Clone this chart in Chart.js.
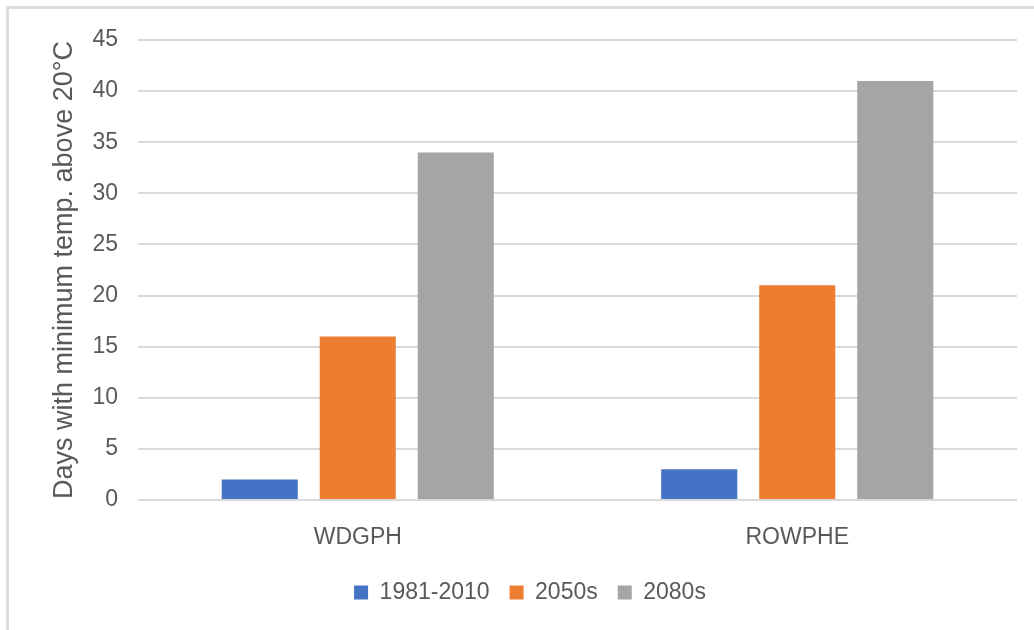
<!DOCTYPE html>
<html>
<head>
<meta charset="utf-8">
<script src="https://cdn.jsdelivr.net/npm/chart.js@4.4.1/dist/chart.umd.min.js"></script>
<style>
  html, body { margin: 0; padding: 0; background: #fff; }
  #frame {
    position: absolute; left: 6px; top: 6px; width: 1028px; height: 624px;
    border-top: 3px solid #dcdcdc; border-left: 3px solid #dcdcdc; box-sizing: border-box;
  }
  #wrap { position: absolute; left: 0; top: 0; width: 1034px; height: 630px; }
</style>
</head>
<body>
<div id="frame"></div>
<div id="wrap"><canvas id="chart" width="1034" height="630"></canvas></div>
<script>
// Sites on the category axis
const categories = ['WDGPH', 'ROWPHE'];
// Period names for the three series
const periods = ['1981-2010', '2050s', '2080s'];
// Days with minimum temperature above 20°C, per site
const days1981to2010 = [2, 3];
const days2050s = [16, 21];
const days2080s = [34, 41];
// Value axis ticks
const yMin = 0, yMax = 45, yStep = 5;

const seriesValues = [days1981to2010, days2050s, days2080s];
const seriesColors = ['#4472c4', '#ed7d31', '#a5a5a5'];

const FONT = "'Liberation Sans', Arial, sans-serif";
const TEXT = '#595959';

new Chart(document.getElementById('chart'), {
  type: 'bar',
  data: {
    labels: categories,
    datasets: periods.map((p, i) => ({
      label: p,
      data: seriesValues[i],
      backgroundColor: seriesColors[i],
      borderWidth: 0,
      categoryPercentage: 0.669,
      barPercentage: 0.776
    }))
  },
  options: {
    responsive: false,
    animation: false,
    layout: { padding: { left: 43, right: 17, top: 40, bottom: 16 } },
    plugins: {
      tooltip: { enabled: false },
      legend: {
        position: 'bottom',
        labels: {
          boxWidth: 14, boxHeight: 14, padding: 20,
          color: TEXT, font: { family: FONT, size: 23 }
        }
      }
    },
    scales: {
      x: {
        grid: { display: false, drawTicks: false },
        border: { display: false },
        ticks: { color: TEXT, font: { family: FONT, size: 23 }, padding: 24 },
        afterFit: s => { s.height = 61; }
      },
      y: {
        min: yMin, max: yMax,
        ticks: { stepSize: yStep, color: TEXT, font: { family: FONT, size: 23 }, padding: 20 },
        grid: { color: '#d9d9d9', lineWidth: 2, drawTicks: false },
        border: { display: false },
        title: {
          display: true,
          text: 'Days with minimum temp. above 20°C',
          color: TEXT,
          font: { family: FONT, size: 27 },
          padding: { top: 5, bottom: 0 }
        },
        afterFit: s => { s.width = 95; }
      }
    }
  }
});
</script>
</body>
</html>
